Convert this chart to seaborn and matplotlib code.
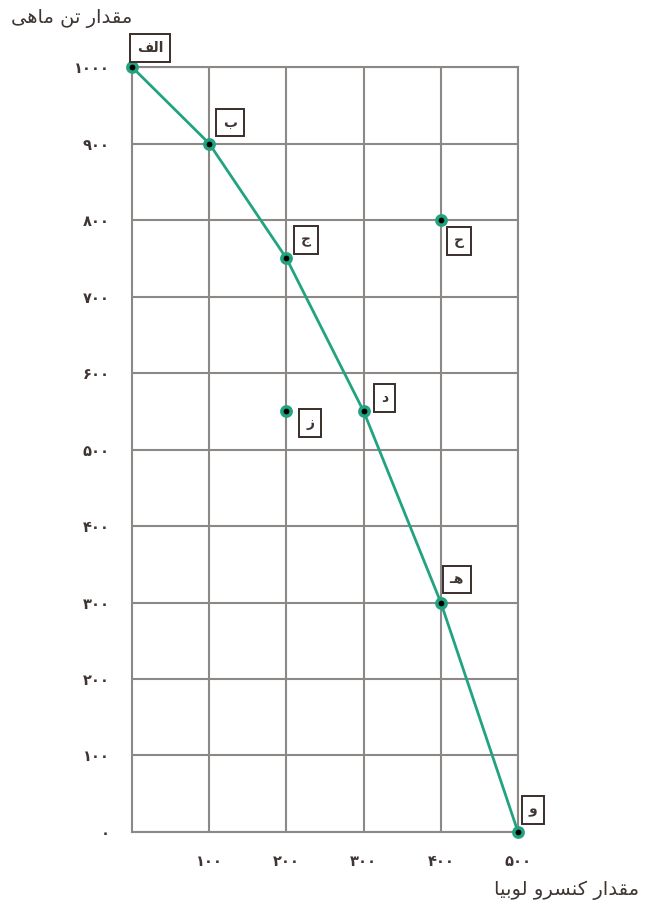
import numpy as np
import pandas as pd
import matplotlib.pyplot as plt
import seaborn as sns

# frontier points (beans, fish) and two extra points off the curve
frontier_labels = ["\uFED2\uFEDF\uFE8D", "ب", "ج", "د", "\u0640\uFEEB", "و"]  # الف ب ج د هـ و
frontier_x = [0, 100, 200, 300, 400, 500]
frontier_y = [1000, 900, 750, 550, 300, 0]
extra_labels = ["ح", "ز"]
extra_x = [400, 200]
extra_y = [800, 550]

# persian text given in display order (presentation forms, right-to-left already laid out)
y_title = "\uFBFD\uFEEB\uFE8E\uFEE3 \uFEE6\uFE97 \uFEAD\uFE8D\uFEAA\uFED8\uFEE3"  # مقدار تن ماهی
x_title = "\uFE8E\uFBFF\uFE91\uFEEE\uFEDF \uFEED\uFEAE\uFEB4\uFEE8\uFB90 \uFEAD\uFE8D\uFEAA\uFED8\uFEE3"  # مقدار کنسرو لوبیا

y_ticks = list(range(0, 1001, 100))
x_ticks = list(range(100, 501, 100))


def fa_digits(n):
	return str(n).translate(str.maketrans("0123456789", "۰۱۲۳۴۵۶۷۸۹"))


sns.set_style("white")
plt.rcParams['font.family'] = ['DejaVu Sans']

green = "#22a380"
grid_c = "#8c8886"
text_c = "#3f3532"

fig = plt.figure(figsize=(6.48, 9.07), dpi=100)
ax = fig.add_axes([0.2037, 0.0827, 0.5957, 0.8434])

df = pd.DataFrame({"x": frontier_x, "y": frontier_y, "nom": frontier_labels})
sns.lineplot(data=df, x="x", y="y", color=green, lw=2, ax=ax, zorder=3)
ax.scatter(frontier_x + extra_x, frontier_y + extra_y, s=45, color="black",
		   edgecolor=green, linewidth=2.5, zorder=4, clip_on=False)

# label boxes, offsets in pixels from each point
offsets = [(18, 19), (21, 21), (20, 18), (21, 13), (16, 23), (15, 22)]
offsets_extra = [(18, -21), (24, -12)]
for lab, x, y, off in zip(frontier_labels + extra_labels, frontier_x + extra_x,
						  frontier_y + extra_y, offsets + offsets_extra):
	ax.annotate(lab, (x, y), xytext=off, textcoords="offset pixels",
				ha="center", va="center", fontsize=10, fontweight="bold", color=text_c,
				bbox=dict(boxstyle="square,pad=0.5", fc="white", ec="#3a2e2b", lw=1.4),
				zorder=5, annotation_clip=False)

ax.set_xlim(0, 500)
ax.set_ylim(0, 1000)
ax.set_yticks(y_ticks)
ax.set_yticklabels([fa_digits(v) for v in y_ticks])
ax.set_xticks(x_ticks)
ax.set_xticklabels([fa_digits(v) for v in x_ticks])
ax.tick_params(axis="both", length=10, width=1.5, color=grid_c, labelcolor=text_c,
			   labelsize=10.5, pad=6, direction="out")
for t in ax.get_xticklabels() + ax.get_yticklabels():
	t.set_fontweight("bold")
ax.grid(True, color=grid_c, lw=1.5)
for s in ax.spines.values():
	s.set_color(grid_c)
	s.set_linewidth(1.5)
ax.set_xlabel("")
ax.set_ylabel("")

fig.text(72 / 648, 1 - 18 / 907, y_title, ha="center", va="center", fontsize=14, color=text_c)
fig.text(567 / 648, 1 - 890 / 907, x_title, ha="center", va="center", fontsize=14, color=text_c)

plt.savefig("out.png", dpi=100)
